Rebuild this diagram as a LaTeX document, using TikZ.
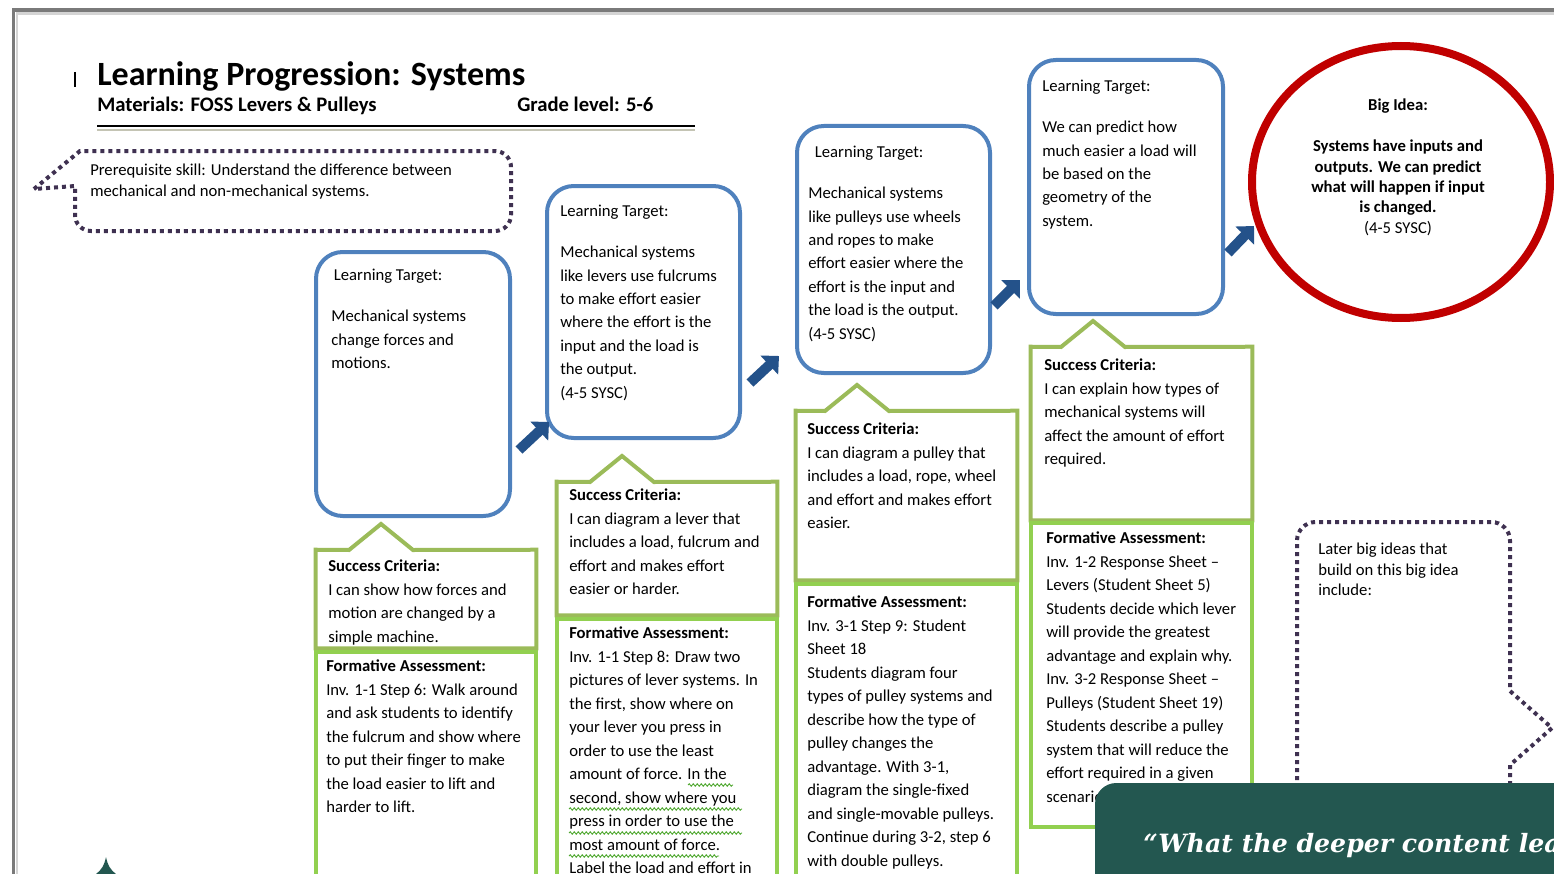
\documentclass[tikz,border=0pt]{standalone}
\usepackage{fontspec}
\setmainfont{Carlito}
\newfontfamily\quotefont{DejaVu Serif}
\usetikzlibrary{arrows.meta, positioning, fit, calc, shapes.geometric, decorations.pathmorphing}
\definecolor{ltblue}{HTML}{4F81BD}
\definecolor{arrowblue}{HTML}{24528A}
\definecolor{critgreen}{HTML}{9BBB59}
\definecolor{formgreen}{HTML}{92D050}
\definecolor{dotpurple}{HTML}{3F3151}
\definecolor{bigred}{HTML}{C00000}
\definecolor{banner}{HTML}{235750}
\definecolor{pagegrey}{HTML}{7A7A7A}
\definecolor{pageshade}{HTML}{D4D4D4}
\definecolor{rulegrey}{HTML}{C4C4B4}
\definecolor{wavegreen}{HTML}{4EA72E}
\tikzset{
  target/.style={draw=ltblue, line width=3pt, rounded corners=20pt, inner sep=0pt},
  crit/.style={draw=critgreen, line width=3pt},
  form/.style={draw=formgreen, line width=3pt, inner sep=0pt},
  txt/.style={font=\fontsize{12.5}{17.6}\selectfont, align=left, inner sep=0pt, anchor=north west},
  head/.style={font=\bfseries\fontsize{15.5}{18}\selectfont, anchor=base west, inner sep=0pt},
  dotline/.style={draw=dotpurple, line width=3pt, dash pattern=on 3pt off 3pt},
  flow/.style={draw=arrowblue, line width=7.5pt, -{Triangle[length=10pt, width=19pt]}},
  bigidea/.style={draw=bigred, line width=6pt, ellipse, inner sep=0pt},
  quote/.style={font=\quotefont\bfseries\itshape\fontsize{18.9}{22}\selectfont, text=white, anchor=base west, inner sep=0pt},
  wave/.style={draw=wavegreen, line width=0.7pt, decorate, decoration={snake, amplitude=0.9pt, segment length=3pt}},
}

\begin{document}
\begin{tikzpicture}[x=0.75pt, y=-0.75pt]
  \useasboundingbox (0,0) rectangle (1554,874);
  \clip (0,0) rectangle (1554,874);
  % page edge
  \draw[pagegrey, line width=2.4pt] (13.5,900) -- (13.5,10) -- (1600,10);
  \draw[pageshade, line width=2.2pt] (17,900) -- (17,13.5) -- (1600,13.5);

  % heading
  \draw[line width=2.2pt] (75,72) -- (75,87);
  \node[font=\bfseries\fontsize{25.5}{30}\selectfont, anchor=base west, inner sep=0pt] (title) at (97,86) {Learning Progression: Systems};
  \node[head] (materials) at (97,112) {Materials: FOSS Levers \& Pulleys};
  \node[head] (grade) at (517,112) {Grade level: 5-6};
  \draw[line width=1.3pt] (97,126) -- (695,126);
  \draw[rulegrey, line width=1.3pt] (97,130) -- (695,130);

  % prerequisite callout
  \draw[dotline] (34,189) -- (80,151) [rounded corners=12pt] -- (511,151) -- (511,231) -- (75,231) [sharp corners] -- (75,186) -- cycle;
  \node[txt, font=\fontsize{12.5}{15.8}\selectfont] (prereq) at (90,164) {Prerequisite skill: Understand the difference between\\mechanical and non-mechanical systems.};

  % learning targets
  \node[target, fit={(316,252) (510,516)}] (lt1) {};
  \node[target, fit={(547,186) (740,438)}] (lt2) {};
  \node[target, fit={(797,126) (990,373)}] (lt3) {};
  \node[target, fit={(1029,60) (1223,314)}] (lt4) {};
  \node[txt] (lt1txt) at (331,269) {\hspace*{2pt}Learning Target:\\[13pt]Mechanical systems\\change forces and\\motions.};
  \node[txt] (lt2txt) at (560,205) {Learning Target:\\[13pt]Mechanical systems\\like levers use fulcrums\\to make effort easier\\where the effort is the\\input and the load is\\the output.\\(4-5 SYSC)};
  \node[txt] (lt3txt) at (808,146) {\hspace*{5pt}Learning Target:\\[13pt]Mechanical systems\\like pulleys use wheels\\and ropes to make\\effort easier where the\\effort is the input and\\the load is the output.\\(4-5 SYSC)};
  \node[txt] (lt4txt) at (1042,80) {Learning Target:\\[13pt]We can predict how\\much easier a load will\\be based on the\\geometry of the\\system.};

  % arrows between targets
  \coordinate (a1s) at (519,450); \coordinate (a1e) at (549,422);
  \coordinate (a2s) at (750,383); \coordinate (a2e) at (779,356);
  \coordinate (a3s) at (994,306); \coordinate (a3e) at (1020,280);
  \coordinate (a4s) at (1228,253); \coordinate (a4e) at (1254,226);
  \foreach \i in {1,...,4}
    \draw[flow] (a\i s) -- (a\i e);

  % success criteria: box with a peak under each target
  \newcommand{\critbox}[6]{% name x1 x2 ytop ybot peak-x
    \node[fit={(#2,#4) (#3,#5)}, inner sep=0pt] (#1) {};
    \draw[crit] (#1.north west) -- (#6-32,#4) -- (#6,#4-26) -- (#6+32,#4) -- (#1.north east) -- (#1.south east) -- (#1.south west) -- cycle;}
  \critbox{sc1}{316}{536}{550}{648}{381}
  \critbox{sc2}{557}{777}{482}{615}{622}
  \critbox{sc3}{796}{1017}{411}{580}{857}
  \critbox{sc4}{1031}{1252}{347}{520}{1093}
  \node[txt] (sc1txt) at (328,560) {\textbf{Success Criteria:}\\I can show how forces and\\motion are changed by a\\simple machine.};
  \node[txt] (sc2txt) at (569,489) {\textbf{Success Criteria:}\\I can diagram a lever that\\includes a load, fulcrum and\\effort and makes effort\\easier or harder.};
  \node[txt] (sc3txt) at (807,423) {\textbf{Success Criteria:}\\I can diagram a pulley that\\includes a load, rope, wheel\\and effort and makes effort\\easier.};
  \node[txt] (sc4txt) at (1044,359) {\textbf{Success Criteria:}\\I can explain how types of\\mechanical systems will\\affect the amount of effort\\required.};

  % formative assessment
  \node[form, fit={(316,652) (536,890)}] (fa1) {};
  \node[form, fit={(557,619) (777,890)}] (fa2) {};
  \node[form, fit={(796,584) (1017,890)}] (fa3) {};
  \node[form, fit={(1031,523) (1252,827)}] (fa4) {};
  \node[txt] (fa1txt) at (326,660) {\textbf{Formative Assessment:}\\Inv. 1-1 Step 6: Walk around\\and ask students to identify\\the fulcrum and show where\\to put their finger to make\\the load easier to lift and\\harder to lift.};
  \node[txt] (fa2txt) at (569,627) {\textbf{Formative Assessment:}\\Inv. 1-1 Step 8: Draw two\\pictures of lever systems. In\\the first, show where on\\your lever you press in\\order to use the least\\amount of force. In the\\second, show where you\\press in order to use the\\most amount of force.\\Label the load and effort in};
  \draw[wave] (688,785) -- (733,785);
  \draw[wave] (569,809) -- (742,809);
  \draw[wave] (569,833) -- (742,833);
  \draw[wave] (569,856) -- (719,856);
  \node[txt] (fa3txt) at (807,596) {\textbf{Formative Assessment:}\\Inv. 3-1 Step 9: Student\\Sheet 18\\Students diagram four\\types of pulley systems and\\describe how the type of\\pulley changes the\\advantage. With 3-1,\\diagram the single-fixed\\and single-movable pulleys.\\Continue during 3-2, step 6\\with double pulleys.};
  \node[txt] (fa4txt) at (1046,532) {\textbf{Formative Assessment:}\\Inv. 1-2 Response Sheet –\\Levers (Student Sheet 5)\\Students decide which lever\\will provide the greatest\\advantage and explain why.\\Inv. 3-2 Response Sheet –\\Pulleys (Student Sheet 19)\\Students describe a pulley\\system that will reduce the\\effort required in a given\\scenario.};

  % big idea
  \node[bigidea, minimum width=223.5pt, minimum height=204pt] (big) at (1401,182) {};
  \node[font=\bfseries\fontsize{12.5}{15.3}\selectfont, align=center, anchor=north, inner sep=0pt] (bigtxt) at (1398,99) {Big Idea:\\[15.3pt]Systems have inputs and\\outputs. We can predict\\what will happen if input\\is changed.\\\mdseries(4-5 SYSC)};

  % later big ideas callout
  \draw[dotline] (1297,900) [rounded corners=14pt] -- (1297,522) -- (1510,522) [sharp corners] -- (1510,691) -- (1552,728) -- (1510,765) -- (1510,900);
  \node[txt, font=\fontsize{12.5}{15.4}\selectfont] (later) at (1318,543) {Later big ideas that\\build on this big idea\\include:};

  % quote banner
  \fill[banner, rounded corners=16pt] (1095,783) rectangle (1640,920);
  \node[quote] (quote) at (1143,852) {“What the deeper content lea};
  \fill[banner] (96,874) .. controls (102,869) and (104,866) .. (106,857) .. controls (108,866) and (110,869) .. (116,874) -- cycle;
\end{tikzpicture}
\end{document}
